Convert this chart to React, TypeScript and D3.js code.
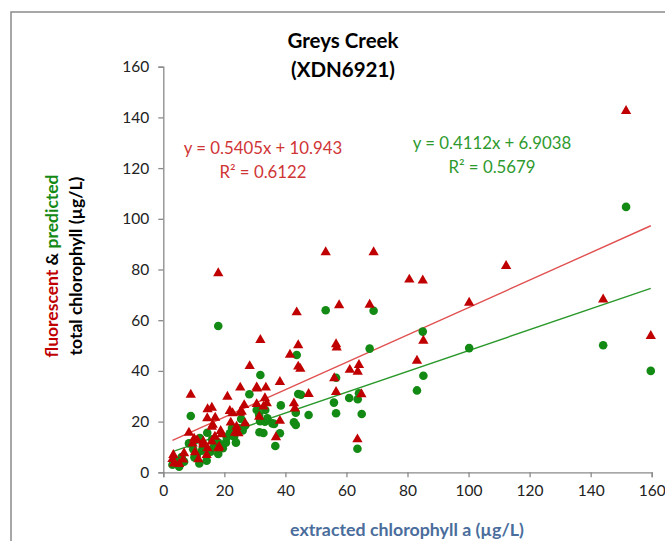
import { useEffect, useRef } from "react";
import * as d3 from "d3";

// fluorescent total chlorophyll vs extracted chl a
const fluorX = [3.3, 3.5, 3.0, 5.2, 6.8, 6.5, 8.4, 9.0, 9.6, 10.1, 11.1, 10.4, 11.5, 13.1, 14.2, 14.4, 15.9, 15.9, 16.2, 16.9,
  18.0, 18.0, 18.8, 19.1, 21.0, 21.8, 22.1, 23.5, 24.0, 24.6, 25.1, 25.2, 25.7, 26.5, 26.8, 28.3, 30.6, 30.7, 31.4, 31.8,
  32.8, 33.3, 33.6, 33.9, 36.9, 38.2, 38.2, 41.5, 42.8, 43.1, 43.7, 44.2, 44.2, 44.9, 47.6, 53.2, 56.0, 56.6, 56.8, 56.6,
  57.6, 61.1, 63.6, 63.7, 64.1, 64.9, 67.6, 68.9, 80.6, 83.1, 85.0, 85.2, 100.2, 112.3, 144.1, 151.6, 159.7,
  14.5, 17.0, 22.7, 14.5, 18.3, 13.1, 15.9, 30.6];
const fluorY = [6.8, 3.5, 5.2, 3.3, 7.5, 5.0, 15.6, 30.6, 11.4, 13.3, 12.7, 7.9, 5.1, 11.0, 6.8, 21.3, 25.5, 12.1, 18.7, 14.0,
  9.5, 78.5, 16.3, 15.0, 29.8, 24.2, 19.6, 15.6, 18.0, 15.4, 23.5, 33.4, 23.9, 26.5, 19.3, 41.9, 26.9, 33.0, 21.9, 52.2,
  25.9, 29.2, 33.4, 27.2, 13.8, 35.6, 20.3, 46.4, 27.2, 25.2, 63.1, 50.1, 41.7, 40.8, 30.9, 86.8, 37.1, 50.5, 49.2, 31.7,
  65.9, 40.4, 13.0, 39.7, 42.3, 30.8, 66.1, 86.8, 76.0, 44.0, 75.7, 51.9, 66.9, 81.4, 68.2, 142.5, 53.8,
  24.9, 21.5, 23.3, 9.5, 10.1, 12.1, 18.0, 33.5];

// predicted total chlorophyll vs extracted chl a
const predX = [3.5, 3.0, 5.2, 6.8, 6.0, 8.4, 9.0, 9.8, 10.2, 11.8, 12.6, 14.2, 14.2, 14.4, 15.5, 16.0, 18.0, 18.0, 18.0, 20.5,
  20.8, 22.9, 23.2, 23.8, 24.9, 26.8, 25.5, 28.2, 30.6, 31.4, 31.7, 31.8, 31.5, 32.8, 33.3, 33.4, 34.1, 35.7, 36.3, 36.7,
  38.2, 38.5, 42.8, 43.4, 43.4, 43.7, 44.2, 45.1, 47.6, 53.2, 55.9, 56.6, 56.6, 60.9, 63.6, 63.7, 64.1, 65.0, 67.6, 68.9,
  83.1, 85.0, 85.2, 100.2, 144.1, 151.6, 159.7,
  26.0, 21.8, 13.0, 16.5, 11.0, 17.0, 12.0, 19.5, 22.5];
const predY = [4.9, 3.0, 2.2, 4.2, 6.0, 11.4, 22.2, 9.1, 5.9, 3.5, 8.5, 4.6, 8.8, 15.6, 8.1, 13.0, 11.7, 7.2, 57.7, 11.7,
  13.7, 15.4, 14.0, 11.7, 17.4, 18.4, 21.0, 30.8, 24.6, 22.6, 20.2, 38.4, 15.8, 15.5, 20.0, 24.6, 21.3, 19.3, 19.1, 10.4,
  15.4, 26.4, 19.7, 18.7, 23.5, 46.3, 30.9, 30.6, 22.6, 63.9, 27.5, 37.3, 23.3, 29.3, 9.3, 28.8, 31.2, 23.0, 48.8, 63.7,
  32.3, 55.5, 38.1, 49.0, 50.1, 104.7, 40.0,
  16.5, 15.4, 10.5, 10.0, 6.8, 12.5, 13.5, 9.5, 17.5];

// trendline coefficients shown on the chart
const fluorFit = { slope: 0.5405, intercept: 10.943, r2: "0.6122" };
const predFit = { slope: 0.4112, intercept: 6.9038, r2: "0.5679" };

const xTicks = [0, 20, 40, 60, 80, 100, 120, 140, 160];
const yTicks = [0, 20, 40, 60, 80, 100, 120, 140, 160];

const RED = "#c00000";
const GREEN = "#138a13";
const FONT = "Lato, 'Open Sans', sans-serif";

export default function App() {
  const ref = useRef<SVGSVGElement>(null);

  useEffect(() => {
    const svg = d3.select(ref.current);
    svg.selectAll("*").remove();

    const x = d3.scaleLinear().domain([0, 160]).range([163.3, 651.7]);
    const y = d3.scaleLinear().domain([0, 160]).range([472.3, 66.7]);

    svg.append("rect").attr("width", 665).attr("height", 541).attr("fill", "#fff");
    // chart border
    svg.append("rect").attr("x", 11).attr("y", 12).attr("width", 700).attr("height", 600)
      .attr("fill", "none").attr("stroke", "#8a8a8a").attr("stroke-width", 1.5);

    // axes
    const xAxis = svg.append("g").attr("transform", `translate(0,${y(0)})`)
      .call(d3.axisBottom(x).tickValues(xTicks).tickSize(5).tickPadding(8));
    const yAxis = svg.append("g").attr("transform", `translate(${x(0)},0)`)
      .call(d3.axisLeft(y).tickValues(yTicks).tickSize(5).tickPadding(9));
    [xAxis, yAxis].forEach((g) => {
      g.select(".domain").attr("stroke", "#8a8a8a").attr("stroke-width", 1.3);
      g.selectAll(".tick line").attr("stroke", "#8a8a8a").attr("stroke-width", 1.3);
      g.selectAll(".tick text").attr("font-family", FONT).attr("font-size", 15.5).attr("fill", "#222");
    });

    // trendlines
    const line = d3.line<number>().x((d) => x(d));
    const fits = [
      { fit: fluorFit, xs: fluorX, color: "#e05050" },
      { fit: predFit, xs: predX, color: "#2a982a" },
    ];
    fits.forEach(({ fit, xs, color }) => {
      const ext = d3.extent(xs) as [number, number];
      svg.append("path")
        .datum(ext)
        .attr("d", line.y((d) => y(fit.slope * d + fit.intercept)))
        .attr("fill", "none").attr("stroke", color).attr("stroke-width", 1.4);
    });

    // predicted circles
    svg.append("g").selectAll("circle").data(predX).enter().append("circle")
      .attr("cx", (d) => x(d)).attr("cy", (_, i) => y(predY[i])).attr("r", 4.3).attr("fill", GREEN);

    // fluorescent triangles
    const tri = d3.symbol().type(d3.symbolTriangle).size(46);
    svg.append("g").selectAll("path").data(fluorX).enter().append("path")
      .attr("d", tri as any)
      .attr("transform", (d, i) => `translate(${x(d)},${y(fluorY[i])})`)
      .attr("fill", RED);

    // title
    const title = svg.append("text").attr("text-anchor", "middle").attr("font-family", FONT)
      .attr("font-weight", "bold").attr("font-size", 20.5).attr("fill", "#000");
    title.append("tspan").attr("x", 343).attr("y", 48).text("Greys Creek");
    title.append("tspan").attr("x", 343).attr("y", 77).text("(XDN6921)");

    // equations
    const eq = (cx: number, cy: number, fit: typeof fluorFit, color: string) => {
      const t = svg.append("text").attr("text-anchor", "middle").attr("font-family", FONT)
        .attr("font-size", 16.8).attr("fill", color);
      t.append("tspan").attr("x", cx).attr("y", cy)
        .text(`y = ${fit.slope}x + ${fit.intercept}`);
      t.append("tspan").attr("x", cx).attr("y", cy + 24).text(`R² = ${fit.r2}`);
    };
    eq(263, 154, fluorFit, "#d03535");
    eq(492, 149, predFit, "#2e9a2e");

    // axis titles
    svg.append("text").attr("x", 407).attr("y", 536).attr("text-anchor", "middle")
      .attr("font-family", FONT).attr("font-weight", "bold").attr("font-size", 17.8)
      .attr("fill", "#4a6d9c").text("extracted chlorophyll a (µg/L)");

    const yt1 = svg.append("text").attr("transform", "translate(58,266) rotate(-90)")
      .attr("text-anchor", "middle").attr("font-family", FONT).attr("font-weight", "bold").attr("font-size", 17.5);
    yt1.append("tspan").attr("fill", RED).text("fluorescent");
    yt1.append("tspan").attr("fill", "#000").text(" & ");
    yt1.append("tspan").attr("fill", GREEN).text("predicted");
    svg.append("text").attr("transform", "translate(82,266) rotate(-90)")
      .attr("text-anchor", "middle").attr("font-family", FONT).attr("font-weight", "bold").attr("font-size", 17.5)
      .attr("fill", "#000").text("total chlorophyll (µg/L)");
  }, []);

  return (
    <svg ref={ref} width={665} height={541} style={{ position: "absolute", left: 0, top: 0 }} />
  );
}
